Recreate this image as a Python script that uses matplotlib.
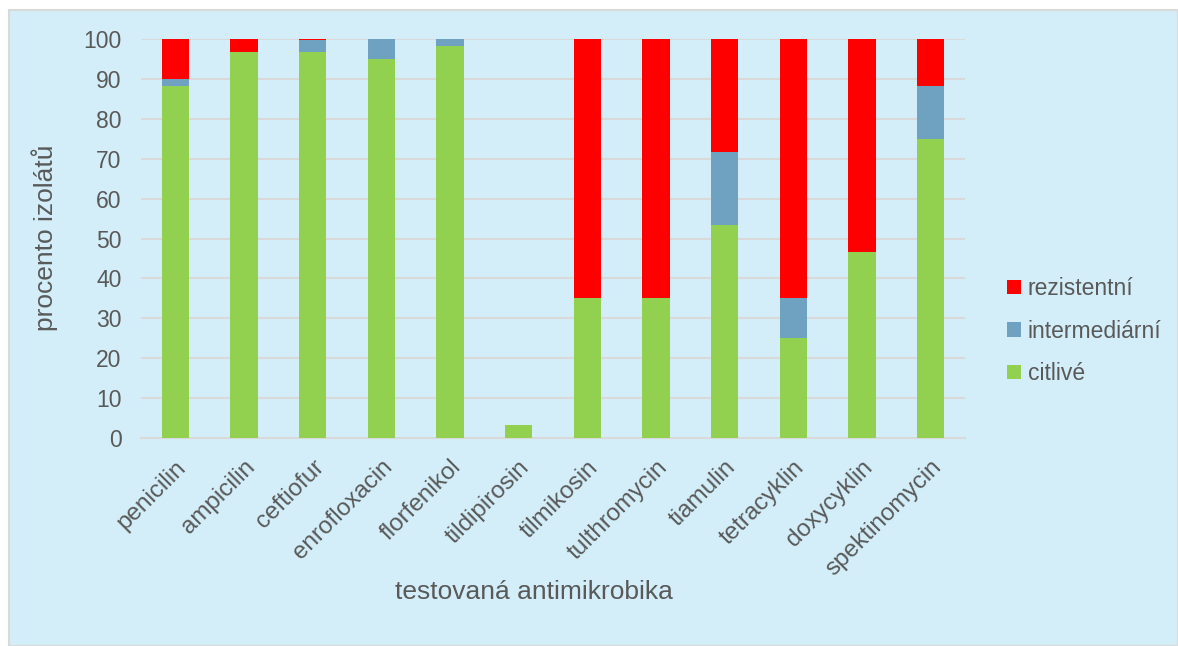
import matplotlib
matplotlib.use("Agg")
import matplotlib.pyplot as plt
from matplotlib.patches import Rectangle, Patch
import numpy as np

plt.rcParams['font.family'] = ['Liberation Sans', 'DejaVu Sans']

categories = ["penicilin", "ampicilin", "ceftiofur", "enrofloxacin", "florfenikol",
              "tildipirosin", "tilmikosin", "tulthromycin", "tiamulin", "tetracyklin",
              "doxycyklin", "spektinomycin"]
citlive = [88.3, 96.7, 96.7, 95.0, 98.3, 3.3, 35.0, 35.0, 53.3, 25.0, 46.7, 75.0]
intermediarni = [1.7, 0.0, 3.0, 5.0, 1.7, 0.0, 0.0, 0.0, 18.3, 10.0, 0.0, 13.3]
rezistentni = [10.0, 3.3, 0.3, 0.0, 0.0, 0.0, 65.0, 65.0, 28.4, 65.0, 53.3, 11.7]
yticks = [0, 10, 20, 30, 40, 50, 60, 70, 80, 90, 100]

C_GREEN = "#92D050"
C_BLUE = "#6FA1C1"
C_RED = "#FF0000"
BG = "#D3EEF9"
TXT = "#595959"
GRID = "#D9D9D9"

W, H = 1178, 646
fig = plt.figure(figsize=(W / 100, H / 100), dpi=100, facecolor="white")
fig.patches.append(Rectangle((9 / W, 0), 1 - 9 / W, 1 - 10 / H, transform=fig.transFigure,
                             facecolor=BG, edgecolor=GRID, linewidth=1.5, zorder=-10))

ax = fig.add_axes([141 / W, 1 - 438 / H, (965 - 141) / W, (438 - 39) / H])
ax.set_facecolor("none")
ax.set_zorder(5)

x = np.arange(len(categories))
c = np.array(citlive)
i = np.array(intermediarni)
r = np.array(rezistentni)
bw = 0.4
ax.bar(x, c, bw, color=C_GREEN, zorder=3)
ax.bar(x, i, bw, bottom=c, color=C_BLUE, zorder=3)
ax.bar(x, r, bw, bottom=c + i, color=C_RED, zorder=3)

ax.set_xlim(-0.5, len(categories) - 0.5)
ax.set_ylim(0, 100)
ax.set_yticks(yticks)
ax.set_yticklabels([str(t) for t in yticks], fontsize=16.5, color=TXT)
ax.yaxis.grid(True, color=GRID, linewidth=1.5, zorder=0)
ax.set_axisbelow(True)
for s in ["top", "right", "left"]:
    ax.spines[s].set_visible(False)
ax.spines["bottom"].set_color(GRID)
ax.spines["bottom"].set_linewidth(1.5)
ax.tick_params(axis="y", length=0, pad=14)
ax.tick_params(axis="x", length=0, pad=13)

ax.set_xticks(x)
ax.set_xticklabels(categories, fontsize=17.5, color=TXT, rotation=45,
                   ha="right", va="top", rotation_mode="anchor")

fig.text(45 / W, 1 - 238 / H, "procento izolátů", rotation=90, ha="center", va="center",
         fontsize=19, color=TXT)
fig.text(534 / W, 1 - 592 / H, "testovaná antimikrobika", ha="center", va="center",
         fontsize=19, color=TXT)

handles = [Patch(facecolor=C_RED, label="rezistentní"),
           Patch(facecolor=C_BLUE, label="intermediární"),
           Patch(facecolor=C_GREEN, label="citlivé")]
leg = fig.legend(handles=handles, loc="center left", bbox_to_anchor=(998 / W, 1 - 331 / H),
                 frameon=False, fontsize=16.5, handlelength=0.6, handleheight=0.6,
                 handletextpad=0.3, labelspacing=0.85, borderaxespad=0)
for t in leg.get_texts():
    t.set_color(TXT)

fig.savefig("out.png", dpi=100, facecolor=fig.get_facecolor())
